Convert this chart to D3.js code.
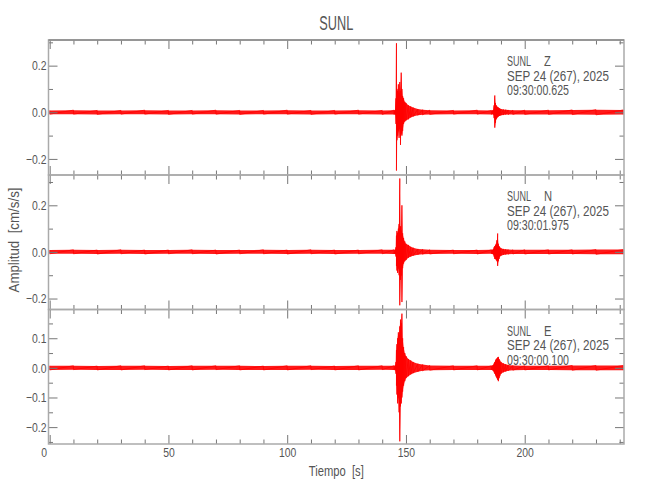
<!DOCTYPE html>
<html>
<head>
<meta charset="utf-8">
<script src="https://cdn.jsdelivr.net/npm/d3@7"></script>
<style>
body { margin: 0; background: #fff; }
text { font-family: "Liberation Sans", Arial, sans-serif; fill: #555; }
</style>
</head>
<body>
<div id="chart"></div>
<script>
// time of each envelope sample (s)
var tiempo = [0,10,20,30,40,50,60,70,80,90,100,110,120,130,140,145,
  145.5,145.8,146.0,146.2,146.5,146.8,147.1,147.4,147.7,148.0,148.3,148.6,149.0,149.5,150,151,152,153,155,157,160,
  170,180,186,
  186.5,186.8,187.1,187.4,187.7,188.0,188.3,188.6,188.9,189.2,189.5,190,191,192,193,195,
  200,210,220,230,241.5];

// envelope (max / min) of each channel, cm/s/s
var zMax = [0.008,0.009,0.008,0.008,0.009,0.008,0.008,0.009,0.008,0.008,0.009,0.008,0.008,0.009,0.008,0.009,
  0.01,0.06,0.296,0.10,0.09,0.12,0.08,0.13,0.09,0.17,0.10,0.07,0.06,0.045,0.04,0.03,0.025,0.02,0.014,0.011,0.009,
  0.008,0.009,0.008,
  0.008,0.01,0.03,0.072,0.04,0.03,0.025,0.022,0.02,0.018,0.016,0.014,0.012,0.011,0.01,0.009,
  0.009,0.009,0.01,0.011,0.01];
var zMin = [-0.008,-0.008,-0.009,-0.008,-0.008,-0.009,-0.008,-0.008,-0.009,-0.008,-0.008,-0.009,-0.008,-0.008,-0.009,-0.009,
  -0.01,-0.05,-0.25,-0.12,-0.10,-0.08,-0.11,-0.07,-0.14,-0.09,-0.10,-0.08,-0.05,-0.04,-0.035,-0.03,-0.022,-0.018,-0.013,-0.011,-0.009,
  -0.008,-0.008,-0.009,
  -0.008,-0.01,-0.025,-0.066,-0.045,-0.03,-0.025,-0.02,-0.018,-0.016,-0.015,-0.013,-0.012,-0.01,-0.01,-0.009,
  -0.009,-0.009,-0.01,-0.011,-0.01];

var nMax = [0.008,0.009,0.008,0.009,0.008,0.008,0.009,0.008,0.008,0.009,0.008,0.009,0.008,0.008,0.009,0.009,
  0.009,0.02,0.07,0.09,0.08,0.10,0.12,0.315,0.11,0.09,0.20,0.08,0.06,0.045,0.035,0.03,0.022,0.018,0.013,0.011,0.009,
  0.008,0.008,0.009,
  0.009,0.012,0.02,0.025,0.03,0.035,0.05,0.079,0.035,0.025,0.02,0.016,0.013,0.011,0.01,0.009,
  0.009,0.009,0.009,0.01,0.01];
var nMin = [-0.008,-0.008,-0.009,-0.008,-0.009,-0.008,-0.008,-0.009,-0.008,-0.008,-0.009,-0.008,-0.009,-0.008,-0.008,-0.009,
  -0.009,-0.02,-0.06,-0.08,-0.09,-0.07,-0.10,-0.229,-0.12,-0.10,-0.215,-0.07,-0.05,-0.04,-0.035,-0.025,-0.02,-0.016,-0.012,-0.01,-0.009,
  -0.008,-0.009,-0.008,
  -0.009,-0.011,-0.02,-0.03,-0.03,-0.035,-0.04,-0.06,-0.04,-0.03,-0.02,-0.016,-0.013,-0.011,-0.01,-0.009,
  -0.009,-0.009,-0.009,-0.01,-0.01];

var eMax = [0.007,0.007,0.006,0.007,0.007,0.006,0.007,0.007,0.007,0.006,0.007,0.007,0.006,0.007,0.007,0.007,
  0.008,0.02,0.06,0.08,0.10,0.12,0.11,0.14,0.163,0.15,0.183,0.10,0.07,0.05,0.04,0.03,0.025,0.02,0.014,0.011,0.008,
  0.007,0.007,0.007,
  0.008,0.01,0.015,0.02,0.025,0.03,0.032,0.035,0.037,0.03,0.025,0.02,0.015,0.012,0.01,0.008,
  0.007,0.007,0.008,0.008,0.008];
var eMin = [-0.007,-0.006,-0.007,-0.007,-0.006,-0.007,-0.007,-0.006,-0.007,-0.007,-0.007,-0.006,-0.007,-0.007,-0.006,-0.007,
  -0.008,-0.02,-0.06,-0.09,-0.12,-0.10,-0.15,-0.248,-0.13,-0.12,-0.10,-0.08,-0.06,-0.045,-0.035,-0.028,-0.022,-0.018,-0.013,-0.01,-0.008,
  -0.007,-0.007,-0.007,
  -0.008,-0.01,-0.015,-0.02,-0.025,-0.03,-0.035,-0.04,-0.045,-0.035,-0.028,-0.02,-0.015,-0.012,-0.01,-0.008,
  -0.007,-0.007,-0.008,-0.008,-0.008];

// y ranges and ticks of each panel
var zDomain = [-0.269, 0.310];
var nDomain = [-0.247, 0.330];
var eDomain = [-0.257, 0.197];
var zTicks = [-0.2, 0.0, 0.2];
var nTicks = [-0.2, 0.0, 0.2];
var eTicks = [-0.2, -0.1, 0.0, 0.1];

var xTicks = [0, 50, 100, 150, 200];
var canales = ["Z", "N", "E"];
var horas = ["09:30:00.625", "09:30:01.975", "09:30:00.100"];
var fecha = "SEP 24 (267), 2025";
var estacion = "SUNL";

var width = 650, height = 500;
var left = 48.5, right = 624;
var panelTop = [40, 175, 309.5], panelBottom = [175, 309.5, 444];

var svg = d3.select("#chart")
  .append("svg")
  .attr("width", width)
  .attr("height", height);

// narrow the glyphs, the original font is a thin condensed one
function squeeze(sel, f) {
  sel.each(function() {
    var w = this.getComputedTextLength();
    if (w > 0) d3.select(this).attr("textLength", w * f).attr("lengthAdjust", "spacingAndGlyphs");
  });
}
function fitWidth(sel, w) {
  sel.attr("textLength", w).attr("lengthAdjust", "spacingAndGlyphs");
}

// x scale shared by the three panels
var x = d3.scaleLinear().domain([-0.5, 241.8]).range([left, right]);

var panels = [
  {max: zMax, min: zMin, domain: zDomain, ticks: zTicks, minor: 0.1},
  {max: nMax, min: nMin, domain: nDomain, ticks: nTicks, minor: 0.1},
  {max: eMax, min: eMin, domain: eDomain, ticks: eTicks, minor: 0.05}
];

var fmt = function(d) { return d3.format(".1f")(d).replace("-", "\u2212"); };

panels.forEach(function(p, i) {
  var y = d3.scaleLinear().domain(p.domain).range([panelBottom[i], panelTop[i]]);
  var g = svg.append("g");

  var pts = tiempo.map(function(t, j) { return {t: t, hi: p.max[j], lo: p.min[j]}; });

  // filled envelope of the trace
  var area = d3.area()
    .x(function(d) { return x(d.t); })
    .y0(function(d) { return y(d.lo); })
    .y1(function(d) { return y(d.hi); });
  g.append("path")
    .attr("d", area(pts))
    .attr("fill", "#ff0000")
    .attr("fill-opacity", 0.9);

  // zig-zag line between max and min
  var zz = [];
  pts.forEach(function(d) { zz.push([d.t, d.hi]); zz.push([d.t, d.lo]); });
  var line = d3.line()
    .x(function(d) { return x(d[0]); })
    .y(function(d) { return y(d[1]); });
  g.append("path")
    .attr("d", line(zz))
    .attr("fill", "none")
    .attr("stroke", "#ff0000")
    .attr("stroke-width", 0.8);

  // y ticks, left with labels and right mirrored
  var minorY = d3.range(Math.ceil(p.domain[0] / p.minor - 1e-6), Math.floor(p.domain[1] / p.minor + 1e-6) + 1)
    .map(function(k) { return +(k * p.minor).toFixed(3); })
    .filter(function(v) { return p.ticks.indexOf(v) < 0; });

  var yLeft = d3.axisLeft(y).tickValues(p.ticks).tickSize(-9).tickPadding(2).tickFormat(fmt);
  var ya = g.append("g").attr("transform", "translate(" + left + ",0)").call(yLeft);
  var yRight = d3.axisRight(y).tickValues(p.ticks).tickSize(-9).tickFormat("");
  var yb = g.append("g").attr("transform", "translate(" + right + ",0)").call(yRight);
  var yLeftMin = d3.axisLeft(y).tickValues(minorY).tickSize(-4.5).tickFormat("");
  var yc = g.append("g").attr("transform", "translate(" + left + ",0)").call(yLeftMin);
  var yRightMin = d3.axisRight(y).tickValues(minorY).tickSize(-4.5).tickFormat("");
  var yd = g.append("g").attr("transform", "translate(" + right + ",0)").call(yRightMin);

  // x ticks on top and bottom of each panel
  var minorX = d3.range(0, 241, 10).filter(function(v) { return v % 50 != 0; });
  var xb = g.append("g").attr("transform", "translate(0," + panelBottom[i] + ")")
    .call(d3.axisBottom(x).tickValues(xTicks).tickSize(-9).tickPadding(4).tickFormat(i == 2 ? d3.format("d") : ""));
  var xbm = g.append("g").attr("transform", "translate(0," + panelBottom[i] + ")")
    .call(d3.axisBottom(x).tickValues(minorX).tickSize(-4.5).tickFormat(""));
  var xt = g.append("g").attr("transform", "translate(0," + panelTop[i] + ")")
    .call(d3.axisTop(x).tickValues(xTicks).tickSize(-9).tickFormat(""));
  var xtm = g.append("g").attr("transform", "translate(0," + panelTop[i] + ")")
    .call(d3.axisTop(x).tickValues(minorX).tickSize(-4.5).tickFormat(""));

  [ya, yb, yc, yd, xb, xbm, xt, xtm].forEach(function(a) {
    a.select(".domain").remove();
    a.selectAll("line").attr("stroke", "#777").attr("stroke-width", 1);
    a.selectAll("text").attr("font-size", 13).attr("fill", "#555")
      .attr("font-family", "Liberation Sans, Arial, sans-serif");
  });
  squeeze(ya.selectAll("text"), 0.8);
  squeeze(xb.selectAll("text"), 0.8);
  // first time label sits a little left of its tick, as in the original
  xb.selectAll(".tick").filter(function(d) { return d === 0; }).select("text").attr("x", -6);

  // panel frame
  g.append("rect")
    .attr("x", left).attr("y", panelTop[i])
    .attr("width", right - left).attr("height", panelBottom[i] - panelTop[i])
    .attr("fill", "none")
    .attr("stroke", "#aaa")
    .attr("stroke-width", 1.5);

  // station info
  var base = panelTop[i] + 26;
  var t1 = g.append("text").attr("x", 507).attr("y", base).attr("font-size", 14).text(estacion);
  fitWidth(t1, 24);
  var t2 = g.append("text").attr("x", 544).attr("y", base).attr("font-size", 14).text(canales[i]);
  squeeze(t2, 0.8);
  var t3 = g.append("text").attr("x", 507).attr("y", base + 14.5).attr("font-size", 14).text(fecha);
  fitWidth(t3, 102);
  var t4 = g.append("text").attr("x", 507).attr("y", base + 29).attr("font-size", 14).text(horas[i]);
  fitWidth(t4, 62);
});

// top frame line a bit darker
svg.append("line")
  .attr("x1", left).attr("x2", right)
  .attr("y1", panelTop[0]).attr("y2", panelTop[0])
  .attr("stroke", "#888").attr("stroke-width", 1.5);

// title and axis labels
var titulo = svg.append("text")
  .attr("x", (left + right) / 2)
  .attr("y", 30)
  .attr("text-anchor", "middle")
  .attr("font-size", 20)
  .text(estacion);
fitWidth(titulo, 34);

var xLabel = svg.append("text")
  .attr("x", (left + right) / 2)
  .attr("y", 476)
  .attr("text-anchor", "middle")
  .attr("font-size", 14)
  .style("white-space", "pre")
  .text("Tiempo  [s]");
fitWidth(xLabel, 55);

var yLabel = svg.append("text")
  .attr("transform", "translate(19," + 240 + ") rotate(-90)")
  .attr("text-anchor", "middle")
  .attr("font-size", 14)
  .style("white-space", "pre")
  .text("Amplitud  [cm/s/s]");
fitWidth(yLabel, 105);
</script>
</body>
</html>
